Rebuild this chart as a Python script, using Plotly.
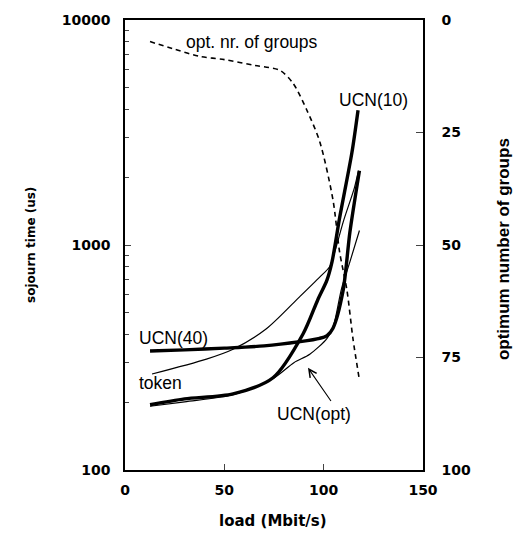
import plotly.graph_objects as go

# ---- data ----
ucn10_x = [12.6, 30, 54.4, 74.5, 89.6, 97, 101.7, 104.2, 108, 114.2, 117.3]
ucn10_y = [195, 207, 218, 257, 402, 570, 700, 841, 1316, 2570, 3975]

ucn40_x = [12.6, 30, 50, 70, 88, 98, 101.7, 104.7, 109.7, 113.2, 118]
ucn40_y = [338, 342, 348, 356, 372, 385, 396, 427, 621, 1140, 2140]

ucnopt_x = [12.6, 30, 54.4, 74.5, 85, 93, 101.7, 105, 109, 113.2, 118]
ucnopt_y = [192, 201, 216, 255, 300, 327, 385, 440, 640, 841, 1160]

token_x = [13.6, 41, 54.4, 71, 88, 98, 103, 106, 110, 115.5, 117.5]
token_y = [267, 311, 344, 423, 590, 720, 800, 960, 1280, 1800, 2140]

groups_x = [12.6, 25, 37.7, 50, 65.4, 78, 84.5, 91.5, 98, 104.7, 108, 111.7, 114.8, 118]
groups_g = [4.8, 6.5, 8.1, 8.8, 10.1, 11.2, 14, 20, 27, 40, 51.5, 60, 71, 80]

x_ticks = [0, 50, 100, 150]
y_ticks = [100, 1000, 10000]
y_minor = [200, 300, 400, 500, 600, 700, 800, 900,
           2000, 3000, 4000, 5000, 6000, 7000, 8000, 9000]
g_ticks = [0, 25, 50, 75, 100]

FONT = "Liberation Sans"
BOLD = "DejaVu Sans"
thick = dict(color="black", width=3.4, shape="spline", smoothing=0.8)
thin = dict(color="black", width=1.2, shape="spline", smoothing=0.8)

fig = go.Figure()
fig.add_trace(go.Scatter(x=ucn10_x, y=ucn10_y, mode="lines", line=thick))
fig.add_trace(go.Scatter(x=ucn40_x, y=ucn40_y, mode="lines", line=thick))
fig.add_trace(go.Scatter(x=ucnopt_x, y=ucnopt_y, mode="lines", line=thin))
fig.add_trace(go.Scatter(x=token_x, y=token_y, mode="lines", line=thin))
fig.add_trace(go.Scatter(x=groups_x, y=groups_g, mode="lines", yaxis="y2",
                         line=dict(color="black", width=1.6, dash="5px,4px",
                                   shape="spline", smoothing=0.8)))

tickfont = dict(family=BOLD, size=14, color="black", weight="bold")

fig.update_layout(
    width=532, height=539,
    margin=dict(l=125, r=109, t=16, b=69),
    paper_bgcolor="white", plot_bgcolor="white",
    showlegend=False,
    xaxis=dict(range=[0, 150], tickvals=x_ticks, ticks="inside", ticklen=6,
               tickwidth=1.2, showline=True, linecolor="black", linewidth=1.5,
               mirror=True, showgrid=False, zeroline=False, tickfont=tickfont,
               ticklabelstandoff=6),
    yaxis=dict(type="log", range=[2, 4], tickvals=y_ticks, ticktext=[str(v) for v in y_ticks],
               ticks="inside", ticklen=6, tickwidth=1.2,
               minor=dict(tickvals=y_minor, ticks="inside", ticklen=4, tickwidth=1),
               showline=True, linecolor="black", linewidth=1.5, showgrid=False,
               zeroline=False, tickfont=tickfont, ticklabelstandoff=10),
    yaxis2=dict(overlaying="y", side="right", range=[100, 0], tickvals=g_ticks,
                ticks="inside", ticklen=7, tickwidth=1.2, showline=True,
                linecolor="black", linewidth=1.5, showgrid=False, zeroline=False,
                tickfont=tickfont, ticklabelstandoff=14),
)

lab = dict(family=FONT, size=17.5, color="black")
fig.add_annotation(x=63.9, y=4.85, yref="y2", text="opt. nr. of groups",
                   showarrow=False, font=lab)
fig.add_annotation(x=125.3, y=3.643, text="UCN(10)", showarrow=False, font=lab)
fig.add_annotation(x=24.2, y=2.586, text="UCN(40)", showarrow=False, font=lab)
fig.add_annotation(x=18.1, y=2.388, text="token", showarrow=False, font=lab)
fig.add_annotation(x=95.1, y=2.247, text="UCN(opt)", showarrow=False, font=lab)
fig.add_annotation(x=92.1, y=2.454, ax=104.2, ay=2.300, axref="x", ayref="y",
                   text="", showarrow=True, arrowhead=5, arrowsize=1.4,
                   arrowwidth=1.1, arrowcolor="black")

fig.add_annotation(xref="paper", yref="paper", x=-0.346, y=0.50,
                   text="sojourn time (us)", textangle=-90, showarrow=False,
                   font=dict(family=BOLD, size=12, color="black", weight="bold"))
fig.add_annotation(xref="paper", yref="paper", x=1.309, y=0.49,
                   text="optimum number of groups", textangle=-90, showarrow=False,
                   font=dict(family=FONT, size=17, color="black", weight="bold"))
fig.add_annotation(xref="paper", yref="paper", x=0.497, y=-0.137,
                   text="load (Mbit/s)", showarrow=False,
                   font=dict(family=BOLD, size=15, color="black", weight="bold"))

fig.write_html("out.html")
